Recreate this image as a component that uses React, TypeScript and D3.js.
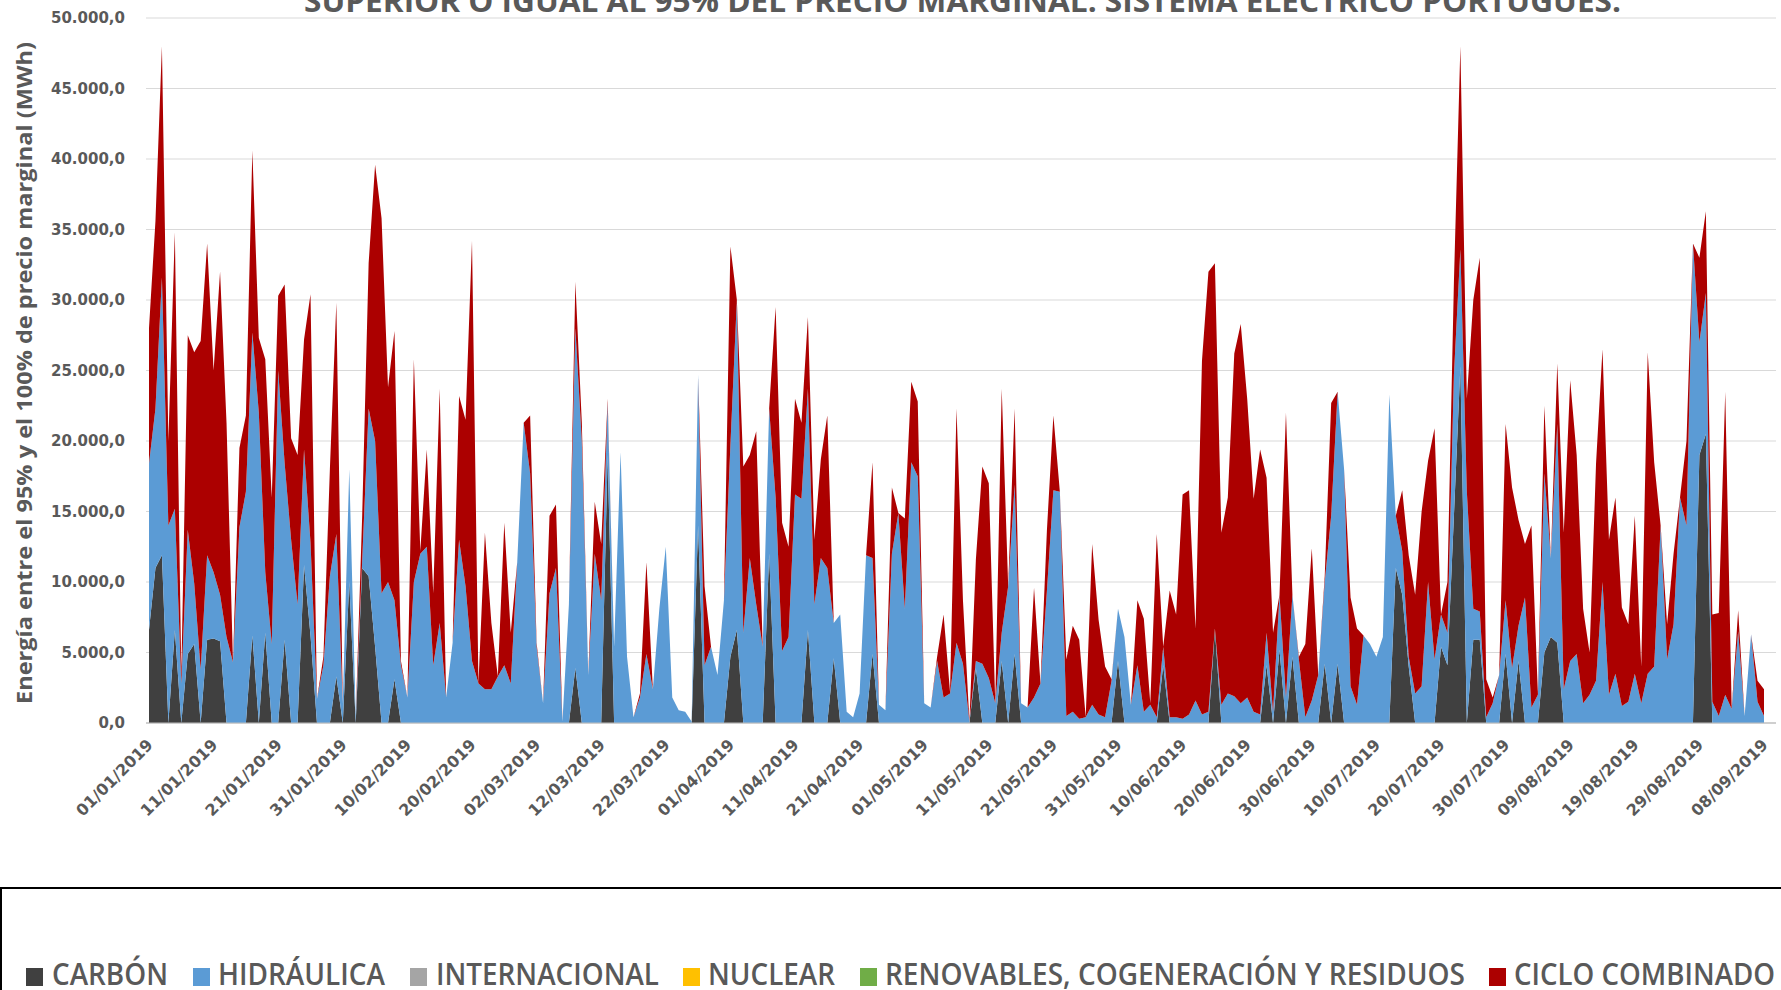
import React from "react";
import * as d3 from "d3";

const startDate = "2019-01-01";
const endDate = "2019-09-08";

const tickLabels = ["01/01/2019","11/01/2019","21/01/2019","31/01/2019","10/02/2019","20/02/2019","02/03/2019","12/03/2019","22/03/2019","01/04/2019","11/04/2019","21/04/2019","01/05/2019","11/05/2019","21/05/2019","31/05/2019","10/06/2019","20/06/2019","30/06/2019","10/07/2019","20/07/2019","30/07/2019","09/08/2019","19/08/2019","29/08/2019","08/09/2019"];

const yTicks = [0, 5000, 10000, 15000, 20000, 25000, 30000, 35000, 40000, 45000, 50000];

// MWh per day (251 days, 01/01/2019 - 08/09/2019), 10 values per line
const carbon = [
  6600, 11000, 11900, 0, 6600, 0, 4900, 5600, 0, 5900,
  6000, 5800, 0, 0, 0, 0, 6200, 0, 6400, 0,
  0, 5900, 0, 0, 11200, 6200, 0, 0, 0, 3300,
  0, 10000, 0, 11000, 10400, 5400, 0, 0, 3100, 0,
  0, 0, 0, 0, 0, 0, 0, 0, 0, 0,
  0, 0, 0, 0, 0, 0, 0, 0, 0, 0,
  0, 0, 0, 0, 0, 0, 3900, 0, 0, 0,
  0, 19000, 0, 0, 0, 0, 0, 0, 0, 0,
  0, 0, 0, 0, 0, 14000, 0, 0, 0, 0,
  4700, 6600, 0, 0, 0, 0, 12000, 0, 0, 0,
  0, 0, 6600, 0, 0, 0, 4600, 0, 0, 0,
  0, 0, 4900, 0, 0, 0, 0, 0, 0, 0,
  0, 0, 0, 0, 0, 0, 0, 0, 3900, 0,
  0, 0, 4400, 0, 4900, 0, 0, 0, 0, 0,
  0, 0, 0, 0, 0, 0, 0, 0, 0, 0,
  4400, 0, 0, 0, 0, 0, 0, 4100, 0, 0,
  0, 0, 0, 0, 0, 6600, 0, 0, 0, 0,
  0, 0, 0, 4100, 0, 5200, 0, 4700, 0, 0,
  0, 0, 4200, 0, 4200, 0, 0, 0, 0, 0,
  0, 0, 0, 11000, 9100, 4000, 0, 0, 0, 0,
  5400, 4100, 14700, 25300, 0, 5900, 5900, 0, 0, 0,
  4900, 0, 4400, 0, 0, 0, 5000, 6100, 5700, 0,
  0, 0, 0, 0, 0, 0, 0, 0, 0, 0,
  0, 0, 0, 0, 0, 0, 0, 0, 0, 0,
  19000, 20500, 0, 0, 0, 0, 0, 0, 0, 0,
  0,
];

const hidraulica = [
  11800, 11300, 19700, 14000, 8600, 2800, 8800, 4300, 3800, 6000,
  4700, 3300, 6100, 4300, 13900, 16400, 21500, 22000, 4300, 5600,
  25000, 12500, 13000, 8400, 8200, 6600, 1700, 4100, 10400, 10100,
  1400, 8000, 500, 500, 11900, 14600, 9200, 10000, 5600, 4100,
  1800, 10000, 12000, 12500, 4100, 7100, 1800, 5700, 13000, 9700,
  4400, 2800, 2400, 2400, 3300, 4100, 2800, 11400, 21300, 17700,
  5400, 1400, 9200, 11000, 100, 8400, 24100, 20000, 3400, 12000,
  8700, 3700, 5400, 19200, 4700, 400, 1800, 4900, 2400, 8100,
  12500, 1800, 900, 800, 100, 10700, 4100, 5400, 3400, 8700,
  15000, 23400, 6400, 11700, 8400, 5400, 10300, 16000, 5100, 6100,
  16200, 15900, 17100, 8400, 11700, 11000, 2500, 7700, 800, 400,
  2100, 11900, 6800, 1300, 900, 12000, 14900, 8100, 18500, 17500,
  1400, 1100, 4400, 1800, 2100, 5700, 4200, 100, 500, 4200,
  3200, 1400, 2000, 9700, 12000, 1400, 1100, 1800, 2800, 9400,
  16500, 16400, 500, 800, 300, 400, 1300, 600, 400, 3000,
  3700, 6100, 1300, 4100, 800, 1300, 400, 1300, 400, 400,
  300, 600, 1600, 600, 800, 100, 1300, 2100, 1900, 1400,
  1800, 800, 600, 2300, 800, 3900, 1800, 4400, 4500, 400,
  1600, 3400, 5800, 14700, 19300, 18000, 2600, 1300, 6200, 5600,
  4700, 6100, 23300, 3700, 3100, 700, 2100, 2600, 10000, 4500,
  2300, 2300, 10000, 8300, 16400, 2200, 2000, 400, 1400, 3400,
  3800, 3900, 2500, 8900, 1100, 2000, 12700, 5600, 15500, 2400,
  4400, 4900, 1400, 2000, 3000, 10000, 2000, 3500, 1200, 1500,
  3500, 1400, 3500, 4000, 14000, 4500, 7000, 16000, 14000, 34000,
  8000, 10000, 1500, 500, 2000, 1000, 6500, 500, 6300, 1500,
  500,
];

const cicloCombinado = [
  9600, 13300, 16400, 6000, 19600, 600, 13800, 16400, 23300, 22100,
  14300, 22900, 15200, 0, 5600, 5400, 12900, 5300, 15100, 10400,
  5300, 12700, 7200, 10600, 7800, 17600, 0, 600, 7600, 16400,
  0, 0, 0, 3200, 10300, 19600, 26600, 13800, 19100, 300,
  0, 15800, 200, 6900, 5100, 16600, 0, 0, 10200, 11800,
  29800, 0, 11100, 4700, 0, 10100, 3600, 0, 0, 4100,
  300, 0, 5500, 4500, 0, 0, 3300, 1300, 0, 3700,
  4000, 300, 0, 0, 0, 0, 300, 6500, 0, 0,
  0, 0, 0, 0, 0, 0, 5600, 0, 0, 0,
  14100, 0, 11800, 7300, 12300, 0, 0, 13500, 9100, 6400,
  6800, 5400, 5100, 4600, 7000, 10800, 0, 0, 0, 0,
  0, 0, 6800, 0, 0, 4700, 0, 6400, 5700, 5300,
  0, 0, 300, 5900, 100, 16600, 4500, 0, 7200, 14000,
  13800, 0, 17300, 0, 5400, 0, 0, 7800, 0, 4300,
  5300, 0, 4000, 6100, 5600, 0, 11400, 6700, 3600, 100,
  0, 0, 0, 4600, 6600, 100, 13000, 0, 9000, 7300,
  15900, 15900, 5100, 25100, 31200, 25900, 12200, 13900, 24300, 26900,
  21200, 15100, 18800, 11000, 5600, 0, 20200, 0, 200, 5200,
  10800, 0, 400, 8000, 0, 0, 6300, 5400, 0, 0,
  0, 0, 0, 0, 4300, 7200, 7000, 12400, 8600, 16400,
  0, 3600, 6600, 14400, 6600, 21900, 25100, 2700, 400, 0,
  12500, 12800, 7500, 3800, 12900, 100, 4800, 0, 4300, 11100,
  19900, 14100, 6700, 3000, 15400, 16500, 11000, 12500, 7000, 5500,
  11200, 2600, 22800, 14500, 0, 2500, 5000, 0, 6000, 0,
  6000, 5800, 6200, 7300, 21500, 0, 1500, 0, 0, 1500,
  1900,
];

const legendItems = [
  { name: "CARBÓN", color: "#404040" },
  { name: "HIDRÁULICA", color: "#5B9BD5" },
  { name: "INTERNACIONAL", color: "#A5A5A5" },
  { name: "NUCLEAR", color: "#FFC000" },
  { name: "RENOVABLES, COGENERACIÓN Y RESIDUOS", color: "#70AD47" },
  { name: "CICLO COMBINADO", color: "#AC0000" },
];

const W = 1781;
const H = 990;
const left = 149;
const right = 1764;
const top = 18;
const bottom = 723;

export default function App() {
  const parse = d3.timeParse("%Y-%m-%d");
  const d0 = parse(startDate)!;
  const d1 = parse(endDate)!;
  const dates = d3.timeDay.range(d0, d3.timeDay.offset(d1, 1));
  const rows = dates.map((d, i) => ({
    date: d,
    carbon: carbon[i] ?? 0,
    hidraulica: hidraulica[i] ?? 0,
    ciclo: cicloCombinado[i] ?? 0,
  }));
  const x = d3.scaleTime().domain([d0, d1]).range([left, right]);
  const y = d3.scaleLinear().domain([0, 50000]).range([bottom, top]);
  const keys = ["carbon", "hidraulica", "ciclo"];
  const colors: Record<string, string> = { carbon: "#404040", hidraulica: "#5B9BD5", ciclo: "#AC0000" };
  const series = d3.stack<any>().keys(keys)(rows);
  const area = d3
    .area<any>()
    .x((d) => x(d.data.date))
    .y0((d) => y(d[0]))
    .y1((d) => y(d[1]));
  const fmt = (v: number) => {
    const s = d3.format(",.1f")(v);
    return s.replace(/,/g, "#").replace(".", ",").replace(/#/g, ".");
  };
  const tickDates = tickLabels.map((t) => d3.timeParse("%d/%m/%Y")(t)!);
  const txt = "#595959";
  const legendPos = [
    { mx: 26, tx: 52, tw: 116 },
    { mx: 193, tx: 218, tw: 167 },
    { mx: 410, tx: 436, tw: 223 },
    { mx: 683, tx: 708, tw: 127 },
    { mx: 860, tx: 885, tw: 580 },
    { mx: 1489, tx: 1514, tw: 261 },
  ];
  return (
    <svg width={W} height={H} style={{ position: "absolute", left: 0, top: 0, background: "#fff" }}>
      <rect x={0} y={0} width={W} height={H} fill="#fff" />
      <text x={304} y={12} fontFamily="'Open Sans', sans-serif" fontWeight={700} fontSize={30} fill={txt} textLength={1317} lengthAdjust="spacingAndGlyphs">
        SUPERIOR O IGUAL AL 95% DEL PRECIO MARGINAL. SISTEMA ELÉCTRICO PORTUGUÉS.
      </text>
      {yTicks.map((t) => (
        <g key={t}>
          <line x1={146} x2={1776} y1={y(t)} y2={y(t)} stroke={t === 0 ? "#bfbfbf" : "#d9d9d9"} strokeWidth={1} />
          <text x={125} y={y(t)} dy="0.35em" textAnchor="end" fontFamily="'DejaVu Sans', sans-serif" fontWeight={700} fontSize={15} fill={txt}>
            {fmt(t)}
          </text>
        </g>
      ))}
      {series.map((s) => (
        <path key={s.key} d={area(s) || ""} fill={colors[s.key]} />
      ))}
      <line x1={146} x2={1776} y1={bottom} y2={bottom} stroke="#bfbfbf" />
      {tickDates.map((d, i) => (
        <text
          key={i}
          transform={`translate(${x(d) + 1},${bottom + 19}) rotate(-45)`}
          textAnchor="end"
          dy="0.35em"
          fontFamily="'DejaVu Sans', sans-serif"
          fontWeight={700}
          fontSize={16}
          fill={txt}
        >
          {tickLabels[i]}
        </text>
      ))}
      <text
        transform={`translate(32,${(42 + 704) / 2}) rotate(-90)`}
        textAnchor="middle"
        fontFamily="'Open Sans', sans-serif"
        fontWeight={700}
        fontSize={21}
        fill={txt}
        textLength={662}
        lengthAdjust="spacingAndGlyphs"
      >
        Energía entre el 95% y el 100% de precio marginal (MWh)
      </text>
      <rect x={1} y={888} width={W + 4} height={H} fill="none" stroke="#000" strokeWidth={2} />
      {legendItems.map((it, i) => (
        <g key={it.name}>
          <rect x={legendPos[i].mx} y={968} width={17} height={18} fill={it.color} />
          <text x={legendPos[i].tx} y={985} fontFamily="'Open Sans', sans-serif" fontWeight={600} fontSize={30} fill={txt} textLength={legendPos[i].tw} lengthAdjust="spacingAndGlyphs">
            {it.name}
          </text>
        </g>
      ))}
    </svg>
  );
}
